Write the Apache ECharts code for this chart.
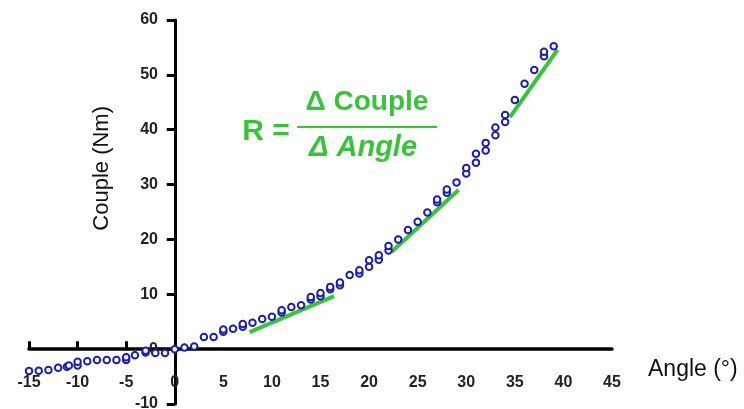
<!DOCTYPE html>
<html>
<head>
<meta charset="utf-8">
<script src="https://cdn.jsdelivr.net/npm/echarts@6/dist/echarts.min.js"></script>
<style>
html,body{margin:0;padding:0;background:#fff;}
#chart{width:744px;height:409px;}
</style>
</head>
<body>
<div id="chart"></div>
<script>
// ---- data ----
var angles = [-15,-14,-13,-12,-11.1,-10.9,-10,-10,-9,-8,-7,-6,-5,-5,-4.1,-3,-3,-2,-1,0,1,2,3,4,5,5,6,7,7,8,9,10,11,11,12,13,14,14,15,15,16,16,17,17,18,19,19,20,20,21,21,22,22,23,24,25,26,27,27,28,28,29,30,30,31,31,32,32,33,33,34,34,35,36,37,38,38,39];
var couples = [-4.0,-3.95,-3.8,-3.4,-3.2,-3.0,-3.0,-2.3,-2.2,-2.0,-2.0,-2.0,-2.0,-1.5,-1.1,-0.6,-0.3,-0.7,-0.7,0,0.3,0.5,2.2,2.2,3.15,3.6,3.7,4.1,4.6,4.8,5.5,5.9,6.7,7.1,7.7,8.0,9.05,9.5,9.65,10.25,10.9,11.35,11.65,12.15,13.5,13.8,14.4,15.0,16.2,16.3,17.1,18.0,18.8,20.0,21.7,23.2,24.9,26.8,27.3,28.5,29.1,30.4,32.0,33.0,34.0,35.6,36.2,37.6,39.0,40.4,41.4,42.7,45.4,48.4,50.9,53.4,54.2,55.2];
var tangentLow  = [[7.7, 3.1], [16.4, 9.65]];
var tangentMid  = [[22.3, 17.7], [29.2, 29.0]];
var tangentHigh = [[34.5, 42.3], [39.4, 54.6]];
var xTickValues = [-15, -10, -5];

var points = angles.map(function (a, i) { return [a, couples[i]]; });

var FONT = "'Liberation Sans', Arial, sans-serif";
var GREEN = '#36c536';
var chart = echarts.init(document.getElementById('chart'));

chart.setOption({
  animation: false,
  backgroundColor: '#fff',
  grid: { left: 29, right: 132, top: 20, bottom: 5, containLabel: false, outerBoundsMode: 'none' },
  xAxis: {
    type: 'value', min: -15, max: 45, interval: 5,
    axisLine: { onZero: true, lineStyle: { color: '#000', width: 3.5 } },
    axisTick: { show: true, inside: true, length: 8, customValues: xTickValues, lineStyle: { color: '#000', width: 3 } },
    axisLabel: { margin: -29, fontFamily: FONT, fontSize: 16, fontWeight: 'bold', color: '#222' },
    splitLine: { show: false }
  },
  yAxis: {
    type: 'value', min: -10, max: 60, interval: 10,
    axisLine: { onZero: true, lineStyle: { color: '#000', width: 3 } },
    axisTick: { show: true, inside: false, length: 8, lineStyle: { color: '#000', width: 3 } },
    axisLabel: { margin: -129, fontFamily: FONT, fontSize: 16, fontWeight: 'bold', color: '#222' },
    splitLine: { show: false }
  },
  graphic: [
    { type: 'text', left: 91, top: 106, rotation: Math.PI / 2, origin: [0, 0],
      style: { text: 'Couple (Nm)', font: '22px ' + FONT, fill: '#111' } },
    { type: 'text', left: 648, top: 358,
      style: { text: 'Angle (°)', font: '23px ' + FONT, fill: '#111' } },
    { type: 'text', x: 266, y: 132,
      style: { text: 'R =', font: 'bold 30px ' + FONT, fill: GREEN, textAlign: 'center', textVerticalAlign: 'middle' } },
    { type: 'text', x: 367, y: 102,
      style: { text: 'Δ Couple', font: 'bold 28px ' + FONT, fill: GREEN, textAlign: 'center', textVerticalAlign: 'middle' } },
    { type: 'line', shape: { x1: 297, y1: 127, x2: 437, y2: 127 }, style: { stroke: GREEN, lineWidth: 2 } },
    { type: 'text', x: 363, y: 148,
      style: { text: 'Δ Angle', font: 'italic bold 29px ' + FONT, fill: GREEN, textAlign: 'center', textVerticalAlign: 'middle' } }
  ],
  series: [
    { type: 'line', data: tangentLow, showSymbol: false, symbol: 'none', lineStyle: { color: GREEN, width: 4 }, z: 2 },
    { type: 'line', data: tangentMid, showSymbol: false, symbol: 'none', lineStyle: { color: GREEN, width: 4 }, z: 2 },
    { type: 'line', data: tangentHigh, showSymbol: false, symbol: 'none', lineStyle: { color: GREEN, width: 4 }, z: 2 },
    { type: 'scatter', data: points, symbol: 'circle', symbolSize: 6.5, z: 3,
      itemStyle: { color: '#fff', borderColor: '#1e1eb4', borderWidth: 2, opacity: 1 } }
  ]
});
</script>
</body>
</html>
